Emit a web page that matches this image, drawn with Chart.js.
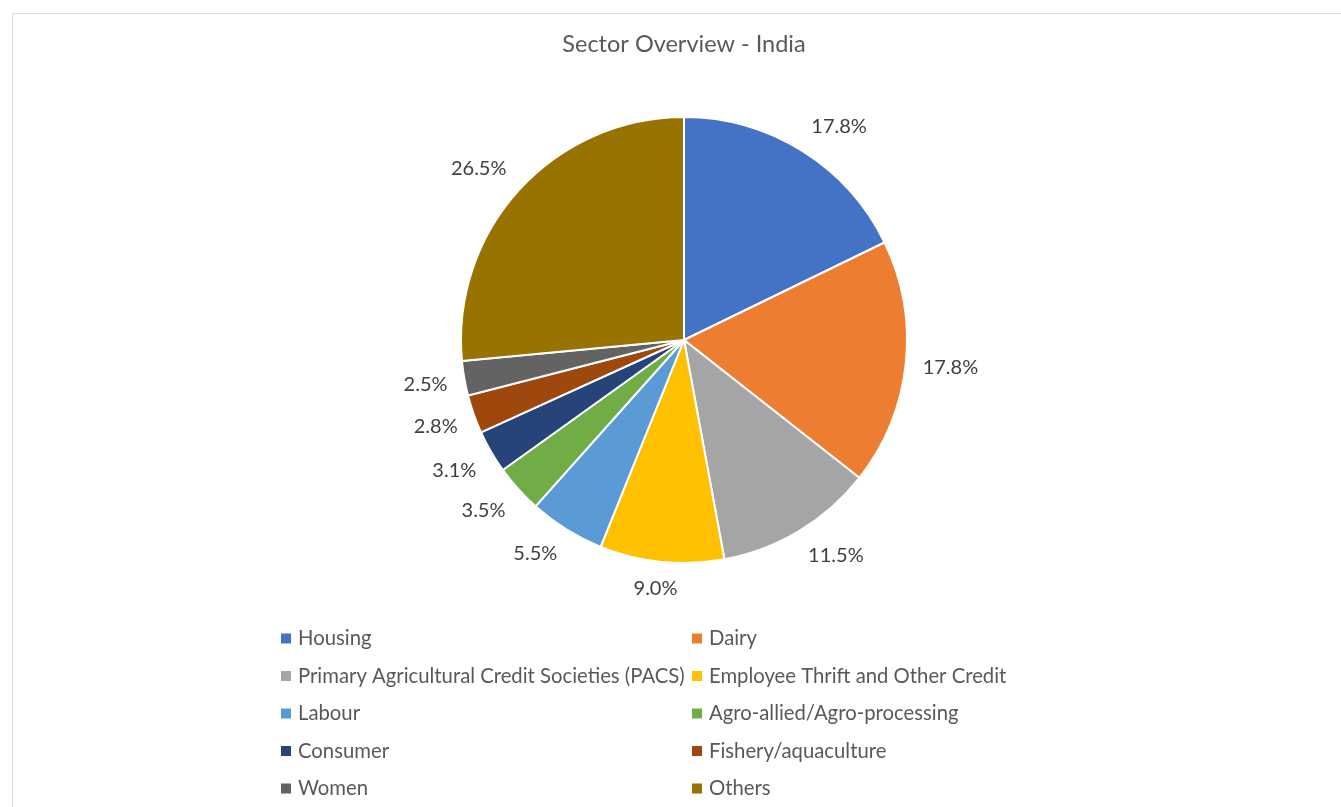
<!DOCTYPE html>
<html>
<head>
<meta charset="utf-8">
<script src="https://cdn.jsdelivr.net/npm/chart.js@4/dist/chart.umd.min.js"></script>
<style>
	html, body {margin: 0; padding: 0; background: #fff; overflow: hidden;}
	#frame {position: absolute; left: 12px; top: 13px; width: 1340px; height: 820px; border: 1px solid #d9d9d9; box-sizing: border-box;}
	#pie {position: absolute; left: 0; top: 0;}
</style>
</head>
<body>
<div id="frame"></div>
<canvas id="pie" width="1341" height="807"></canvas>
<script>
const sectors = [
	"Housing", "Dairy", "Primary Agricultural Credit Societies (PACS)",
	"Employee Thrift and Other Credit", "Labour", "Agro-allied/Agro-processing",
	"Consumer", "Fishery/aquaculture", "Women", "Others",
];
const shares = [17.8, 17.8, 11.5, 9.0, 5.5, 3.5, 3.1, 2.8, 2.5, 26.5];
const colours = [
	"#4472C4", "#ED7D31", "#A5A5A5", "#FFC000", "#5B9BD5",
	"#70AD47", "#264478", "#9E480E", "#636363", "#997300",
];
const title = "Sector Overview - India";

const FONT = "Lato, 'Open Sans', sans-serif";
const INK = "#595959";
const LABEL_INK = "#404040";

//Title, outside percentage labels and the two-column key all get drawn here
const decor = {
	id: "decor",
	afterDraw(chart) {
		const ctx = chart.ctx;
		const meta = chart.getDatasetMeta(0);
		ctx.save();
		ctx.fillStyle = INK;
		ctx.textBaseline = "middle";

		ctx.textAlign = "center";
		ctx.font = "23.5px " + FONT;
		ctx.fillText(title, 684, 44);

		//Labels sit just off the rim; the box is pushed out by its half size
		//so that its near corner/edge touches the gap point.
		ctx.font = "20px " + FONT;
		ctx.fillStyle = LABEL_INK;
		const gap = 17, halfH = 10;
		const clamp = v => Math.max(-1, Math.min(1, v));
		meta.data.forEach((arc, i) => {
			const text = shares[i].toFixed(1) + "%";
			const halfW = ctx.measureText(text).width / 2;
			const mid = (arc.startAngle + arc.endAngle) / 2;
			const dx = Math.cos(mid), dy = Math.sin(mid);
			const r = arc.outerRadius + gap;
			const x = arc.x + dx * r + halfW * clamp(dx / 0.5);
			const y = arc.y + dy * r + halfH * clamp(dy / 0.5);
			ctx.fillText(text, x, y);
		});

		ctx.textAlign = "left";
		ctx.font = "20.3px " + FONT;
		const cols = [281, 692], top = 638.5, step = 37.5;
		sectors.forEach((name, i) => {
			const x = cols[i % 2], y = top + Math.floor(i / 2) * step;
			ctx.fillStyle = colours[i];
			ctx.fillRect(x, y - 5, 10, 10);
			ctx.fillStyle = INK;
			ctx.fillText(name, x + 17, y);
		});
		ctx.restore();
	},
};

new Chart(document.getElementById("pie"), {
	type: "pie",
	data: {
		labels: sectors,
		datasets: [{
			data: shares,
			backgroundColor: colours,
			borderColor: "#fff",
			borderWidth: 2,
		}],
	},
	options: {
		responsive: false,
		animation: false,
		layout: {padding: {top: 116, bottom: 243, left: 40, right: 13}},
		plugins: {legend: {display: false}, tooltip: {enabled: false}},
	},
	plugins: [decor],
});
</script>
</body>
</html>
